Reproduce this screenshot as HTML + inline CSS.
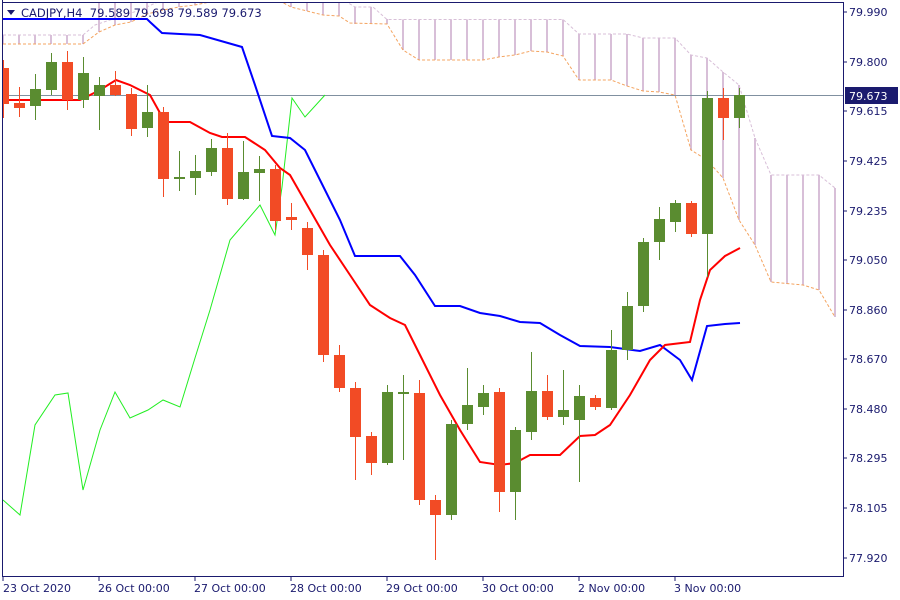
<!DOCTYPE html>
<html><head><meta charset="utf-8"><style>
html,body{margin:0;padding:0;background:#fff}
svg{display:block}
text{font-family:"DejaVu Sans","Liberation Sans",sans-serif;font-size:11px;fill:#1a1a6e}
</style></head><body>
<svg width="900" height="600" viewBox="0 0 900 600" xmlns="http://www.w3.org/2000/svg">
<defs><clipPath id="pa"><rect x="3" y="3" width="840" height="573"/></clipPath></defs>
<rect width="900" height="600" fill="#fff"/>
<g clip-path="url(#pa)">
<g stroke="#d8bfd8" stroke-width="2">
<line x1="3" y1="35" x2="3" y2="44"/><line x1="19" y1="35" x2="19" y2="44"/><line x1="35" y1="35" x2="35" y2="44"/><line x1="51" y1="35" x2="51" y2="44"/><line x1="67" y1="35" x2="67" y2="44"/><line x1="83" y1="35" x2="83" y2="44"/>
<line x1="99" y1="0" x2="99" y2="32"/><line x1="115" y1="0" x2="115" y2="25"/><line x1="131" y1="0" x2="131" y2="22"/><line x1="147" y1="0" x2="147" y2="14"/><line x1="163" y1="0" x2="163" y2="10"/><line x1="179" y1="0" x2="179" y2="7"/><line x1="195" y1="0" x2="195" y2="5"/>
<line x1="291" y1="0" x2="291" y2="7"/><line x1="307" y1="0" x2="307" y2="11"/><line x1="323" y1="0" x2="323" y2="15"/><line x1="339" y1="0" x2="339" y2="16"/><line x1="355" y1="7" x2="355" y2="24"/><line x1="371" y1="7" x2="371" y2="24"/><line x1="387" y1="19" x2="387" y2="24"/>
<line x1="403" y1="19.5" x2="403" y2="50"/><line x1="419" y1="19.5" x2="419" y2="60"/><line x1="435" y1="19.5" x2="435" y2="60"/><line x1="451" y1="19.5" x2="451" y2="60"/><line x1="467" y1="19.5" x2="467" y2="60"/><line x1="483" y1="19.5" x2="483" y2="60"/><line x1="499" y1="19.5" x2="499" y2="57"/><line x1="515" y1="19.5" x2="515" y2="55"/><line x1="531" y1="19.5" x2="531" y2="51"/><line x1="547" y1="19.5" x2="547" y2="52"/><line x1="563" y1="19.5" x2="563" y2="56"/>
<line x1="579" y1="34" x2="579" y2="80"/><line x1="595" y1="34" x2="595" y2="80"/><line x1="611" y1="34" x2="611" y2="80"/><line x1="627" y1="34" x2="627" y2="86"/><line x1="643" y1="38" x2="643" y2="91"/><line x1="659" y1="38" x2="659" y2="92"/><line x1="675" y1="38" x2="675" y2="95"/><line x1="691" y1="55" x2="691" y2="150"/><line x1="707" y1="58" x2="707" y2="160"/><line x1="723" y1="72" x2="723" y2="178"/><line x1="739" y1="85" x2="739" y2="220"/><line x1="755" y1="138" x2="755" y2="245"/><line x1="771" y1="175" x2="771" y2="282"/><line x1="787" y1="175" x2="787" y2="284"/><line x1="803" y1="175" x2="803" y2="285"/><line x1="819" y1="175" x2="819" y2="290"/><line x1="835" y1="188" x2="835" y2="317"/>
</g>
<polyline fill="none" stroke="#d8bfd8" stroke-width="1" stroke-dasharray="3,2" points="3,35 83,35 95,25 140,10 160,1 345,1 355,7 373,7 387,19.5 563,19.5 579,34 627,34 643,38 675,38 691,55 707,58 723,72 739,85 755,138 771,175 819,175 835,188"/>
<polyline fill="none" stroke="#f4a460" stroke-width="1" stroke-dasharray="3,2" points="3,44 83,44 99,32 115,25 131,22 147,14 163,10 179,7 195,5 215,1 280,1 291,7 307,11 323,15 339,16 350,23 387,24 403,50 419,60 483,60 499,57 515,55 531,51 547,52 563,56 579,80 611,80 627,86 643,91 659,92 675,95 691,150 707,160 723,178 739,220 755,245 771,282 803,285 819,290 835,317"/>
<line x1="3" y1="95.5" x2="843" y2="95.5" stroke="#8090a0" stroke-width="1"/>
<polyline fill="none" stroke="#22ee22" stroke-width="1" points="3,500 20,515 35,425 55,395 68,393 83,490 100,430 115,392 130,418 148,410 163,400 180,407 195,358 210,310 230,240 260,205 275,235 282,187 292,98 305,117 325,95"/>
<polyline fill="none" stroke="#0000ff" stroke-width="2" points="3,19 147,19 150,22 162,33 180,34 200,35 242,47 255,85 272,136 290,138 305,150 320,180 340,220 355,256 400,256 415,275 435,306 460,306 480,313 500,316 520,322 540,323 560,335 580,346 610,347 640,351 660,345 680,360 692,380 707,326 725,324 740,323"/>
<polyline fill="none" stroke="#ff0000" stroke-width="2" points="3,100 80,100 100,90 116,80 130,85 150,95 165,122 190,122 210,133 222,137 245,137 265,150 280,168 290,175 310,210 330,245 350,275 370,305 390,318 405,325 420,355 440,395 460,430 480,462 500,465 515,463 530,455 560,455 580,436 595,435 610,425 630,395 650,360 665,345 690,342 700,300 710,270 725,256 740,248"/>
<g stroke="#f24b25" fill="#f24b25">
<line x1="3.5" y1="60" x2="3.5" y2="118"/><rect x="-2" y="68" width="11" height="36" stroke="none"/>
<line x1="19.5" y1="87" x2="19.5" y2="117"/><rect x="14" y="103" width="11" height="5" stroke="none"/>
<line x1="67.5" y1="51" x2="67.5" y2="110"/><rect x="62" y="62" width="11" height="38" stroke="none"/>
<line x1="115.5" y1="71" x2="115.5" y2="96"/><rect x="110" y="85" width="11" height="10" stroke="none"/>
<line x1="131.5" y1="88" x2="131.5" y2="136"/><rect x="126" y="94" width="11" height="35" stroke="none"/>
<line x1="163.5" y1="107" x2="163.5" y2="197"/><rect x="158" y="112" width="11" height="67" stroke="none"/>
<line x1="227.5" y1="133" x2="227.5" y2="205"/><rect x="222" y="148" width="11" height="51" stroke="none"/>
<line x1="275.5" y1="165" x2="275.5" y2="230"/><rect x="270" y="169" width="11" height="52" stroke="none"/>
<line x1="291.5" y1="203" x2="291.5" y2="230"/><rect x="286" y="217" width="11" height="3" stroke="none"/>
<line x1="307.5" y1="222" x2="307.5" y2="270"/><rect x="302" y="228" width="11" height="27" stroke="none"/>
<line x1="323.5" y1="250" x2="323.5" y2="362"/><rect x="318" y="255" width="11" height="100" stroke="none"/>
<line x1="339.5" y1="345" x2="339.5" y2="392"/><rect x="334" y="355" width="11" height="33" stroke="none"/>
<line x1="355.5" y1="382" x2="355.5" y2="480"/><rect x="350" y="388" width="11" height="49" stroke="none"/>
<line x1="371.5" y1="432" x2="371.5" y2="475"/><rect x="366" y="436" width="11" height="27" stroke="none"/>
<line x1="419.5" y1="380" x2="419.5" y2="505"/><rect x="414" y="393" width="11" height="107" stroke="none"/>
<line x1="435.5" y1="495" x2="435.5" y2="560"/><rect x="430" y="500" width="11" height="15" stroke="none"/>
<line x1="499.5" y1="388" x2="499.5" y2="512"/><rect x="494" y="392" width="11" height="100" stroke="none"/>
<line x1="547.5" y1="375" x2="547.5" y2="420"/><rect x="542" y="391" width="11" height="26" stroke="none"/>
<line x1="595.5" y1="395" x2="595.5" y2="410"/><rect x="590" y="398" width="11" height="9" stroke="none"/>
<line x1="691.5" y1="201" x2="691.5" y2="237"/><rect x="686" y="203" width="11" height="31" stroke="none"/>
<line x1="723.5" y1="88" x2="723.5" y2="140"/><rect x="718" y="98" width="11" height="20" stroke="none"/>
</g>
<g stroke="#5a8c30" fill="#5a8c30">
<line x1="35.5" y1="74" x2="35.5" y2="120"/><rect x="30" y="89" width="11" height="17" stroke="none"/>
<line x1="51.5" y1="53" x2="51.5" y2="95"/><rect x="46" y="62" width="11" height="28" stroke="none"/>
<line x1="83.5" y1="57" x2="83.5" y2="108"/><rect x="78" y="73" width="11" height="27" stroke="none"/>
<line x1="99.5" y1="77" x2="99.5" y2="130"/><rect x="94" y="85" width="11" height="11" stroke="none"/>
<line x1="147.5" y1="85" x2="147.5" y2="137"/><rect x="142" y="112" width="11" height="16" stroke="none"/>
<line x1="179.5" y1="151" x2="179.5" y2="191"/><rect x="174" y="177" width="11" height="2" stroke="none"/>
<line x1="195.5" y1="155" x2="195.5" y2="195"/><rect x="190" y="171" width="11" height="7" stroke="none"/>
<line x1="211.5" y1="139" x2="211.5" y2="176"/><rect x="206" y="148" width="11" height="24" stroke="none"/>
<line x1="243.5" y1="141" x2="243.5" y2="200"/><rect x="238" y="172" width="11" height="27" stroke="none"/>
<line x1="259.5" y1="156" x2="259.5" y2="201"/><rect x="254" y="169" width="11" height="4" stroke="none"/>
<line x1="387.5" y1="385" x2="387.5" y2="465"/><rect x="382" y="392" width="11" height="71" stroke="none"/>
<line x1="403.5" y1="375" x2="403.5" y2="460"/><rect x="398" y="392" width="11" height="2" stroke="none"/>
<line x1="451.5" y1="420" x2="451.5" y2="520"/><rect x="446" y="424" width="11" height="91" stroke="none"/>
<line x1="467.5" y1="368" x2="467.5" y2="430"/><rect x="462" y="405" width="11" height="19" stroke="none"/>
<line x1="483.5" y1="385" x2="483.5" y2="415"/><rect x="478" y="393" width="11" height="14" stroke="none"/>
<line x1="515.5" y1="427" x2="515.5" y2="520"/><rect x="510" y="430" width="11" height="62" stroke="none"/>
<line x1="531.5" y1="352" x2="531.5" y2="440"/><rect x="526" y="391" width="11" height="41" stroke="none"/>
<line x1="563.5" y1="370" x2="563.5" y2="425"/><rect x="558" y="410" width="11" height="7" stroke="none"/>
<line x1="579.5" y1="385" x2="579.5" y2="482"/><rect x="574" y="396" width="11" height="24" stroke="none"/>
<line x1="611.5" y1="330" x2="611.5" y2="410"/><rect x="606" y="350" width="11" height="58" stroke="none"/>
<line x1="627.5" y1="292" x2="627.5" y2="360"/><rect x="622" y="306" width="11" height="44" stroke="none"/>
<line x1="643.5" y1="238" x2="643.5" y2="312"/><rect x="638" y="242" width="11" height="64" stroke="none"/>
<line x1="659.5" y1="207" x2="659.5" y2="260"/><rect x="654" y="219" width="11" height="23" stroke="none"/>
<line x1="675.5" y1="200" x2="675.5" y2="232"/><rect x="670" y="203" width="11" height="19" stroke="none"/>
<line x1="707.5" y1="91" x2="707.5" y2="277"/><rect x="702" y="98" width="11" height="136" stroke="none"/>
<line x1="739.5" y1="88" x2="739.5" y2="128"/><rect x="734" y="95" width="11" height="23" stroke="none"/>
</g>
</g>
<polyline fill="none" stroke="#1a1a6e" stroke-width="1" points="2.5,0 2.5,576.5 843.5,576.5 843.5,2.5 2.5,2.5"/>
<g stroke="#1a1a6e">
<line x1="3" y1="576" x2="3" y2="581"/><line x1="99" y1="576" x2="99" y2="581"/><line x1="195" y1="576" x2="195" y2="581"/><line x1="291" y1="576" x2="291" y2="581"/><line x1="387" y1="576" x2="387" y2="581"/><line x1="483" y1="576" x2="483" y2="581"/><line x1="579" y1="576" x2="579" y2="581"/><line x1="675" y1="576" x2="675" y2="581"/>
<line x1="843" y1="12" x2="847" y2="12"/><line x1="843" y1="62" x2="847" y2="62"/><line x1="843" y1="111" x2="847" y2="111"/><line x1="843" y1="161" x2="847" y2="161"/><line x1="843" y1="211" x2="847" y2="211"/><line x1="843" y1="260" x2="847" y2="260"/><line x1="843" y1="310" x2="847" y2="310"/><line x1="843" y1="359" x2="847" y2="359"/><line x1="843" y1="409" x2="847" y2="409"/><line x1="843" y1="458" x2="847" y2="458"/><line x1="843" y1="508" x2="847" y2="508"/><line x1="843" y1="558" x2="847" y2="558"/>
</g>
<text x="849" y="16">79.990</text><text x="849" y="66">79.800</text><text x="849" y="115">79.615</text><text x="849" y="165">79.425</text><text x="849" y="215">79.235</text><text x="849" y="264">79.050</text><text x="849" y="314">78.860</text><text x="849" y="363">78.670</text><text x="849" y="413">78.480</text><text x="849" y="462">78.295</text><text x="849" y="512">78.105</text><text x="849" y="562">77.920</text>
<rect x="845" y="87" width="53" height="17" fill="#1a1a6e"/>
<text x="849" y="100" style="fill:#fff">79.673</text>
<text x="3" y="592">23 Oct 2020</text><text x="98" y="592">26 Oct 00:00</text><text x="194" y="592">27 Oct 00:00</text><text x="290" y="592">28 Oct 00:00</text><text x="386" y="592">29 Oct 00:00</text><text x="482" y="592">30 Oct 00:00</text><text x="578" y="592">2 Nov 00:00</text><text x="674" y="592">3 Nov 00:00</text>
<polygon points="7,10 15,10 11,15" fill="#1a1a6e"/>
<text x="21" y="17" style="font-size:11.5px" xml:space="preserve">CADJPY,H4  79.589 79.698 79.589 79.673</text>
</svg>
</body></html>
